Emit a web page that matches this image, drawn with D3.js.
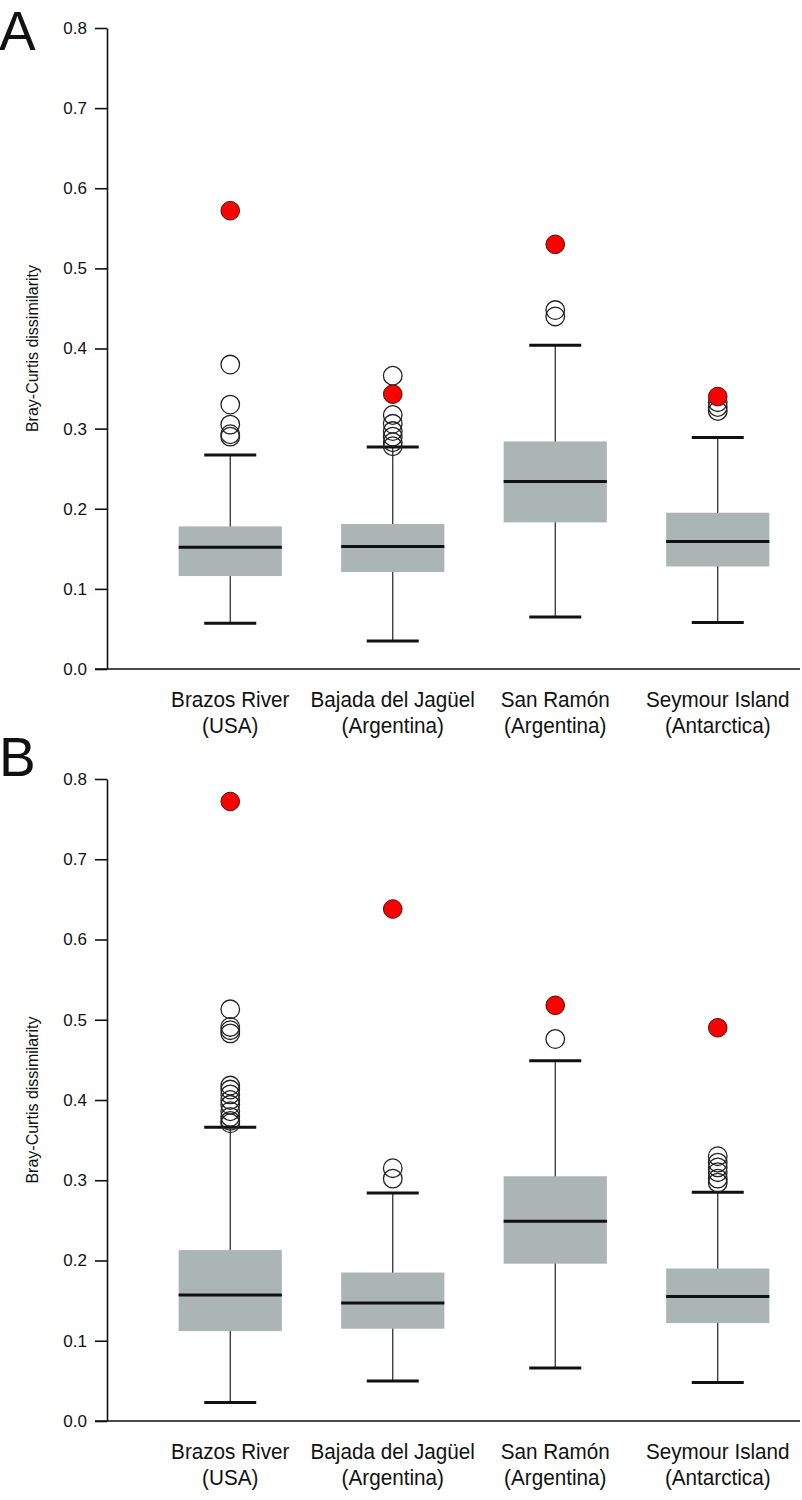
<!DOCTYPE html>
<html><head><meta charset="utf-8">
<script src="https://cdn.jsdelivr.net/npm/d3@7"></script>
<style>body{margin:0;background:#fff}svg{display:block}</style>
</head><body>
<svg id="chart" width="802" height="1500"></svg>
<script>
const categories = ["Brazos River", "Bajada del Jagüel", "San Ramón", "Seymour Island"];
const regions = ["(USA)", "(Argentina)", "(Argentina)", "(Antarctica)"];
const yTicks = [0.0, 0.1, 0.2, 0.3, 0.4, 0.5, 0.6, 0.7, 0.8];

// Panel A: [whiskerLow, Q1, median, Q3, whiskerHigh]
const statsA = [
  [0.057, 0.116, 0.152, 0.178, 0.267],
  [0.035, 0.121, 0.153, 0.181, 0.277],
  [0.065, 0.183, 0.234, 0.284, 0.404],
  [0.058, 0.128, 0.159, 0.195, 0.289]
];
const outliersA = [
  [0.290, 0.293, 0.305, 0.330, 0.380],
  [0.278, 0.283, 0.290, 0.297, 0.306, 0.317, 0.366],
  [0.440, 0.448],
  [0.322, 0.327, 0.333]
];
const redA = [0.572, 0.343, 0.530, 0.340];

// Panel B
const statsB = [
  [0.023, 0.112, 0.157, 0.213, 0.366],
  [0.050, 0.115, 0.147, 0.185, 0.284],
  [0.066, 0.196, 0.249, 0.305, 0.449],
  [0.048, 0.122, 0.155, 0.190, 0.285]
];
const outliersB = [
  [0.371, 0.374, 0.379, 0.386, 0.394, 0.400, 0.407, 0.413, 0.418, 0.483, 0.487, 0.491, 0.513],
  [0.302, 0.315],
  [0.476],
  [0.297, 0.302, 0.310, 0.316, 0.322, 0.330]
];
const redB = [0.772, 0.638, 0.518, 0.490];

const svg = d3.select("#chart");
const sans = "'Liberation Sans', Arial, sans-serif";

function drawPanel(letter, top, bottom, letterBase, stats, outs, reds) {
  const g = svg.append("g");
  const x = d3.scaleBand().domain(categories).range([149, 799]).padding(0);
  const y = d3.scaleLinear().domain([0, 0.8]).range([bottom, top]);
  const boxW = x.bandwidth() * 0.635;
  const capW = x.bandwidth() * 0.32;

  const yAxis = d3.axisLeft(y).tickValues(yTicks).tickFormat(d3.format(".1f")).tickSize(12).tickSizeOuter(0);
  const ya = g.append("g").attr("transform", "translate(107,0)").call(yAxis);
  ya.select(".domain").attr("stroke", "#111").attr("stroke-width", 1.6);
  ya.selectAll(".tick line").attr("stroke", "#111").attr("stroke-width", 1.6);
  ya.selectAll(".tick text").attr("font-family", sans).attr("font-size", 17).attr("fill", "#111").attr("x", -20);

  g.append("line").attr("x1", 95).attr("x2", 800).attr("y1", y(0)).attr("y2", y(0))
    .attr("stroke", "#111").attr("stroke-width", 1.6);

  // Category labels (slightly condensed), two separate lines
  categories.forEach((c, i) => {
    const cx = x(c) + x.bandwidth() / 2;
    const sx = 0.94;
    [[c, bottom + 38], [regions[i], bottom + 64]].forEach(([txt, yy]) => {
      g.append("text").attr("transform", `translate(${cx},${yy}) scale(${sx},1)`)
        .attr("text-anchor", "middle")
        .attr("font-family", sans).attr("font-size", 22).attr("fill", "#111").text(txt);
    });
  });

  g.append("text").attr("transform", `translate(38,${(top + bottom) / 2}) rotate(-90)`)
    .attr("text-anchor", "middle").attr("font-family", sans)
    .attr("font-size", 16).attr("fill", "#111").text("Bray-Curtis dissimilarity");

  g.append("text").attr("x", -1).attr("y", letterBase).attr("font-family", sans)
    .attr("font-size", 55).attr("fill", "#111").text(letter);

  categories.forEach((c, i) => {
    const cx = x(c) + x.bandwidth() / 2;
    const [lo, q1, med, q3, hi] = stats[i];
    g.append("line").attr("x1", cx).attr("x2", cx).attr("y1", y(lo)).attr("y2", y(hi))
      .attr("stroke", "#222").attr("stroke-width", 1.2);
    [lo, hi].forEach(v => g.append("line").attr("x1", cx - capW / 2).attr("x2", cx + capW / 2)
      .attr("y1", y(v)).attr("y2", y(v)).attr("stroke", "#111").attr("stroke-width", 3));
    g.append("rect").attr("x", cx - boxW / 2).attr("width", boxW)
      .attr("y", y(q3)).attr("height", y(q1) - y(q3)).attr("fill", "#abb6b4");
    g.append("line").attr("x1", cx - boxW / 2).attr("x2", cx + boxW / 2)
      .attr("y1", y(med)).attr("y2", y(med)).attr("stroke", "#111").attr("stroke-width", 3);
    g.selectAll(null).data(outs[i]).enter().append("circle")
      .attr("cx", cx).attr("cy", d => y(d)).attr("r", 9.3)
      .attr("fill", "none").attr("stroke", "#222").attr("stroke-width", 1.3);
    g.append("circle").attr("cx", cx).attr("cy", y(reds[i])).attr("r", 9.3)
      .attr("fill", "#ff0000").attr("stroke", "#4a1010").attr("stroke-width", 1);
  });
}

drawPanel("A", 28, 669, 50, statsA, outliersA, redA);
drawPanel("B", 779, 1421, 776, statsB, outliersB, redB);
</script>
</body></html>
